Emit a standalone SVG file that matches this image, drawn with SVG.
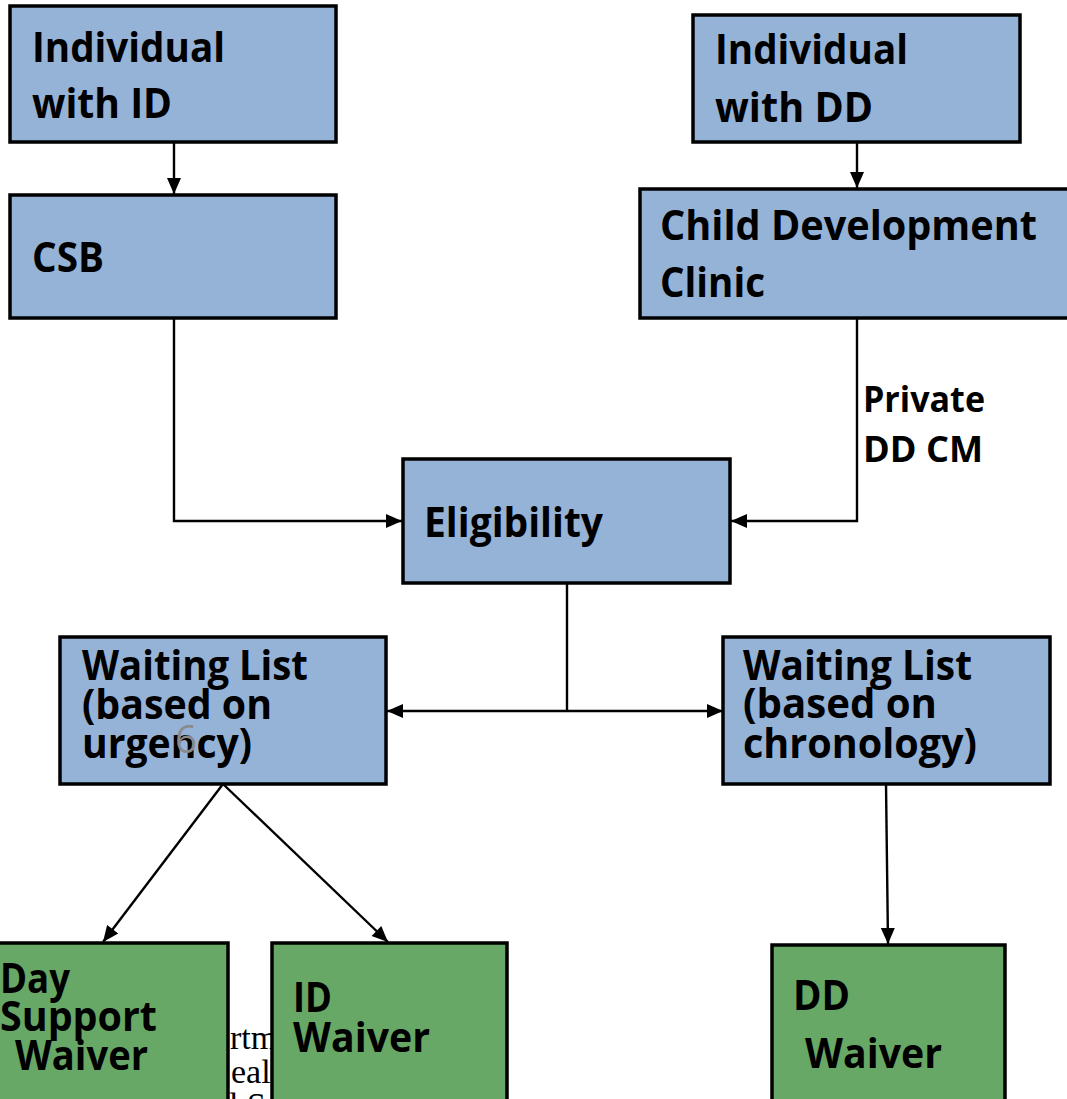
<svg xmlns="http://www.w3.org/2000/svg" width="1067" height="1099" viewBox="0 0 1067 1099">
<style>
.blue{fill:#95b3d7;stroke:#000;stroke-width:3.5}
.green{fill:#68a866;stroke:#000;stroke-width:3.5}
.t{font-family:"Open Sans","Noto Sans","Liberation Sans",sans-serif;font-weight:bold;font-size:41px;fill:#000}
.s{font-size:36px}
.con{fill:none;stroke:#000;stroke-width:2.4}
.bg{font-family:"Liberation Serif",serif;font-size:34px;fill:#000}
</style>
<defs>
<marker id="ah" markerUnits="userSpaceOnUse" markerWidth="18" markerHeight="18" viewBox="0 0 18 18" refX="17" refY="9" orient="auto-start-reverse">
<path d="M1,2 L17,9 L1,16 Z" fill="#000"/>
</marker>
</defs>
<rect width="1067" height="1099" fill="#fff"/>
<g id="bgtext">
<text class="bg" x="230" y="1049">rtm</text>
<text class="bg" x="231" y="1083">eal</text>
<text class="bg" x="229" y="1116">l S</text>
</g>
<g id="connectors">
<path class="con" d="M174,142 V194" marker-end="url(#ah)"/>
<path class="con" d="M857,142 V188" marker-end="url(#ah)"/>
<path class="con" d="M174,318 V521 H402" marker-end="url(#ah)"/>
<path class="con" d="M857,318 V521 H731" marker-end="url(#ah)"/>
<path class="con" d="M567,583 V711"/>
<path class="con" d="M387,711 H723" marker-start="url(#ah)" marker-end="url(#ah)"/>
<path class="con" d="M223,784 L103,942" marker-end="url(#ah)"/>
<path class="con" d="M223,784 L388,942" marker-end="url(#ah)"/>
<path class="con" d="M886,784 L888,944" marker-end="url(#ah)"/>
</g>
<g id="n-individual-id">
<rect class="blue" x="10" y="6" width="326" height="136"/>
<text class="t" x="32" y="62" textLength="193" lengthAdjust="spacingAndGlyphs">Individual</text>
<text class="t" x="32" y="118" textLength="140" lengthAdjust="spacingAndGlyphs">with ID</text>
</g>
<g id="n-csb">
<rect class="blue" x="10" y="195" width="326" height="123"/>
<text class="t" x="32" y="272" textLength="72" lengthAdjust="spacingAndGlyphs">CSB</text>
</g>
<g id="n-individual-dd">
<rect class="blue" x="693" y="15" width="327" height="127"/>
<text class="t" x="715" y="64" textLength="193" lengthAdjust="spacingAndGlyphs">Individual</text>
<text class="t" x="715" y="122" textLength="158" lengthAdjust="spacingAndGlyphs">with DD</text>
</g>
<g id="n-cdc">
<rect class="blue" x="640" y="189" width="440" height="129"/>
<text class="t" x="660" y="240" textLength="377" lengthAdjust="spacingAndGlyphs">Child Development</text>
<text class="t" x="660" y="297" textLength="105" lengthAdjust="spacingAndGlyphs">Clinic</text>
</g>
<g id="label-private">
<text class="t s" x="863" y="412" textLength="122" lengthAdjust="spacingAndGlyphs">Private</text>
<text class="t s" x="863" y="462" textLength="120" lengthAdjust="spacingAndGlyphs">DD CM</text>
</g>
<g id="n-eligibility">
<rect class="blue" x="403" y="459" width="327" height="124"/>
<text class="t" x="424" y="537" textLength="179" lengthAdjust="spacingAndGlyphs">Eligibility</text>
</g>
<g id="n-wl-urgency">
<rect class="blue" x="60" y="637" width="326" height="147"/>
<text class="t" x="82" y="680" textLength="226" lengthAdjust="spacingAndGlyphs">Waiting List</text>
<text class="t" x="82" y="719" textLength="190" lengthAdjust="spacingAndGlyphs">(based on</text>
<text class="t" x="82" y="758" textLength="170" lengthAdjust="spacingAndGlyphs">urgency)</text>
<text x="175" y="753" font-family="'Open Sans','Liberation Sans',sans-serif" font-size="38" fill="#8a8a8a" textLength="22" lengthAdjust="spacingAndGlyphs">6</text>
</g>
<g id="n-wl-chronology">
<rect class="blue" x="723" y="637" width="327" height="147"/>
<text class="t" x="743" y="680" textLength="229" lengthAdjust="spacingAndGlyphs">Waiting List</text>
<text class="t" x="743" y="718" textLength="194" lengthAdjust="spacingAndGlyphs">(based on</text>
<text class="t" x="743" y="758" textLength="234" lengthAdjust="spacingAndGlyphs">chronology)</text>
</g>
<g id="n-day-support">
<rect class="green" x="-5" y="943" width="233" height="170"/>
<text class="t" x="0" y="993" textLength="70" lengthAdjust="spacingAndGlyphs">Day</text>
<text class="t" x="0" y="1031" textLength="157" lengthAdjust="spacingAndGlyphs">Support</text>
<text class="t" x="15" y="1070" textLength="133" lengthAdjust="spacingAndGlyphs">Waiver</text>
</g>
<g id="n-id-waiver">
<rect class="green" x="272" y="943" width="235" height="170"/>
<text class="t" x="293" y="1012" textLength="39" lengthAdjust="spacingAndGlyphs">ID</text>
<text class="t" x="293" y="1052" textLength="137" lengthAdjust="spacingAndGlyphs">Waiver</text>
</g>
<g id="n-dd-waiver">
<rect class="green" x="772" y="945" width="233" height="170"/>
<text class="t" x="793" y="1010" textLength="57" lengthAdjust="spacingAndGlyphs">DD</text>
<text class="t" x="805" y="1068" textLength="137" lengthAdjust="spacingAndGlyphs">Waiver</text>
</g>
</svg>
